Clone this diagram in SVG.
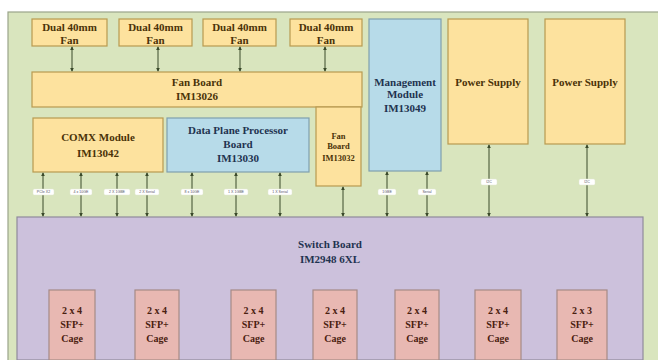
<svg xmlns="http://www.w3.org/2000/svg" width="658" height="360" viewBox="0 0 658 360">
<defs>
<marker id="ah" viewBox="0 0 6 6" refX="5" refY="3" markerWidth="4" markerHeight="4" orient="auto-start-reverse"><path d="M0,0 L6,3 L0,6 z" fill="#3a4a2a"/></marker>
<style>
.t{font-family:"Liberation Serif","Times New Roman",serif;font-weight:bold;text-anchor:middle}
.y{fill:#fde29e;stroke:#b89a50;stroke-width:1.2}
.b{fill:#b7dbe9;stroke:#7f9fae;stroke-width:1.2}
.p{fill:#ccc1dc;stroke:#8f8a9c;stroke-width:1.2}
.k{fill:#e8b8b2;stroke:#a58a86;stroke-width:1.2}
.ty{fill:#4a3208;font-size:11px}
.tb{fill:#1f3350;font-size:11px}
.tk{fill:#4a2010;font-size:10px}
.c{stroke:#3a4a2a;stroke-width:1;fill:none;marker-start:url(#ah);marker-end:url(#ah)}
.lb{fill:#ffffff;stroke:#e0e6d0;stroke-width:0.5}
.lt{font-family:"Liberation Sans",Arial,sans-serif;font-size:3.6px;fill:#556;text-anchor:middle}
</style>
</defs>
<rect x="0" y="0" width="658" height="360" fill="#ffffff"/>
<rect x="8" y="12" width="652" height="350" fill="#d9e5be" stroke="#9aa48a" stroke-width="1.2"/>

<g id="fan1"><rect class="y" x="32" y="19" width="75" height="27"/><text class="t ty" x="69.5" y="31">Dual 40mm</text><text class="t ty" x="69.5" y="44">Fan</text></g>
<g id="fan2"><rect class="y" x="119" y="19" width="73" height="27"/><text class="t ty" x="155.5" y="31">Dual 40mm</text><text class="t ty" x="155.5" y="44">Fan</text></g>
<g id="fan3"><rect class="y" x="203" y="19" width="73" height="27"/><text class="t ty" x="239.5" y="31">Dual 40mm</text><text class="t ty" x="239.5" y="44">Fan</text></g>
<g id="fan4"><rect class="y" x="290" y="19" width="72" height="27"/><text class="t ty" x="326" y="31">Dual 40mm</text><text class="t ty" x="326" y="44">Fan</text></g>

<g id="fanboard"><rect class="y" x="32" y="72" width="330" height="35"/><text class="t ty" x="197" y="86">Fan Board</text><text class="t ty" x="197" y="100">IM13026</text></g>

<g id="mgmt"><rect class="b" x="369" y="19" width="72" height="152"/><text class="t tb" x="405" y="86">Management</text><text class="t tb" x="405" y="98">Module</text><text class="t tb" x="405" y="112">IM13049</text></g>

<g id="psu1"><rect class="y" x="448" y="19" width="80" height="125"/><text class="t ty" x="488" y="86">Power Supply</text></g>
<g id="psu2"><rect class="y" x="545" y="19" width="80" height="125"/><text class="t ty" x="585" y="86">Power Supply</text></g>

<g id="comx"><rect class="y" x="33" y="118" width="130" height="54"/><text class="t ty" x="98" y="141">COMX Module</text><text class="t ty" x="98" y="157">IM13042</text></g>
<g id="dpp"><rect class="b" x="167" y="118" width="142" height="54"/><text class="t tb" x="238" y="134">Data Plane Processor</text><text class="t tb" x="238" y="148">Board</text><text class="t tb" x="238" y="162">IM13030</text></g>
<g id="fanboard2"><rect class="y" x="316" y="107" width="45" height="79"/><text class="t ty" x="338.5" y="139" style="font-size:8.5px">Fan</text><text class="t ty" x="338.5" y="149" style="font-size:8.5px">Board</text><text class="t ty" x="338.5" y="161" style="font-size:8.5px">IM13032</text></g>

<g id="switch"><rect class="p" x="17" y="217" width="626" height="143"/><text class="t tb" x="330" y="248">Switch Board</text><text class="t tb" x="330" y="263">IM2948 6XL</text></g>

<g id="cage1"><rect class="k" x="49" y="290" width="46" height="70"/><text class="t tk" x="72" y="314">2 x 4</text><text class="t tk" x="72" y="328">SFP+</text><text class="t tk" x="72" y="342">Cage</text></g>
<g id="cage2"><rect class="k" x="135" y="290" width="44" height="70"/><text class="t tk" x="157" y="314">2 x 4</text><text class="t tk" x="157" y="328">SFP+</text><text class="t tk" x="157" y="342">Cage</text></g>
<g id="cage3"><rect class="k" x="231" y="290" width="45" height="70"/><text class="t tk" x="253.5" y="314">2 x 4</text><text class="t tk" x="253.5" y="328">SFP+</text><text class="t tk" x="253.5" y="342">Cage</text></g>
<g id="cage4"><rect class="k" x="313" y="290" width="44" height="70"/><text class="t tk" x="335" y="314">2 x 4</text><text class="t tk" x="335" y="328">SFP+</text><text class="t tk" x="335" y="342">Cage</text></g>
<g id="cage5"><rect class="k" x="395" y="290" width="44" height="70"/><text class="t tk" x="417" y="314">2 x 4</text><text class="t tk" x="417" y="328">SFP+</text><text class="t tk" x="417" y="342">Cage</text></g>
<g id="cage6"><rect class="k" x="475" y="290" width="46" height="70"/><text class="t tk" x="498" y="314">2 x 4</text><text class="t tk" x="498" y="328">SFP+</text><text class="t tk" x="498" y="342">Cage</text></g>
<g id="cage7"><rect class="k" x="557" y="290" width="50" height="70"/><text class="t tk" x="582" y="314">2 x 3</text><text class="t tk" x="582" y="328">SFP+</text><text class="t tk" x="582" y="342">Cage</text></g>

<g id="connectors">
<path class="c" d="M72,47 V71"/>
<path class="c" d="M158,47 V71"/>
<path class="c" d="M240,47 V71"/>
<path class="c" d="M325,47 V71"/>
<path class="c" d="M43,173 V216"/>
<path class="c" d="M81,173 V216"/>
<path class="c" d="M117,173 V216"/>
<path class="c" d="M147,173 V216"/>
<path class="c" d="M192,173 V216"/>
<path class="c" d="M236,173 V216"/>
<path class="c" d="M280,173 V216"/>
<path class="c" d="M343,187 V216"/>
<path class="c" d="M387,172 V216"/>
<path class="c" d="M427,172 V216"/>
<path class="c" d="M489,145 V216"/>
<path class="c" d="M587,145 V216"/>
<rect class="lb" x="33" y="189" width="21" height="6" rx="1.5"/><text class="lt" x="43.5" y="193.3">PCIe X2</text>
<rect class="lb" x="70" y="189" width="22" height="6" rx="1.5"/><text class="lt" x="81" y="193.3">4 x 10GE</text>
<rect class="lb" x="104" y="189" width="26" height="6" rx="1.5"/><text class="lt" x="117" y="193.3">2 X 1GBE</text>
<rect class="lb" x="135" y="189" width="24" height="6" rx="1.5"/><text class="lt" x="147" y="193.3">2 X Serial</text>
<rect class="lb" x="181" y="189" width="22" height="6" rx="1.5"/><text class="lt" x="192" y="193.3">8 x 10GE</text>
<rect class="lb" x="224" y="189" width="24" height="6" rx="1.5"/><text class="lt" x="236" y="193.3">1 X 1GBE</text>
<rect class="lb" x="268" y="189" width="24" height="6" rx="1.5"/><text class="lt" x="280" y="193.3">1 X Serial</text>
<rect class="lb" x="378" y="189" width="18" height="6" rx="1.5"/><text class="lt" x="387" y="193.3">1GBE</text>
<rect class="lb" x="418" y="189" width="18" height="6" rx="1.5"/><text class="lt" x="427" y="193.3">Serial</text>
<rect class="lb" x="481" y="179" width="16" height="6" rx="1.5"/><text class="lt" x="489" y="183.3">I2C</text>
<rect class="lb" x="579" y="179" width="16" height="6" rx="1.5"/><text class="lt" x="587" y="183.3">I2C</text>
</g>
</svg>
